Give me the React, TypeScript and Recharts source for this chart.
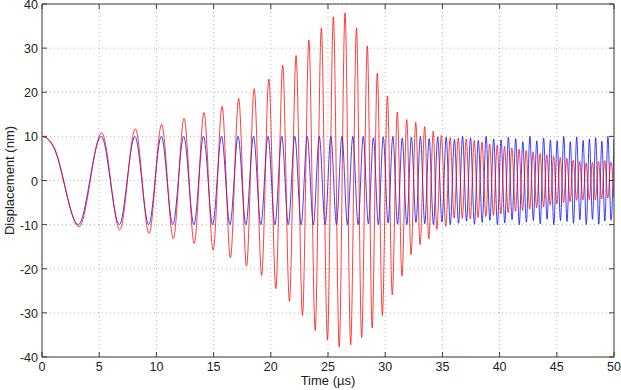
import React from "react";
import { LineChart, Line, XAxis, YAxis, CartesianGrid } from "recharts";

// Axis ticks
const xTicks = [0, 5, 10, 15, 20, 25, 30, 35, 40, 45, 50];
const yTicks = [-40, -30, -20, -10, 0, 10, 20, 30, 40];

// Blue trace: times (µs) of the start, each peak / trough, and its value (nm)
const blueTimes = [
  0, 0.5, 1.0, 3.18, 5.18, 6.76, 8.12, 9.33, 10.43, 11.44, 12.39, 13.28, 14.12,
  14.92, 15.69, 16.43, 17.14, 17.82, 18.49, 19.13, 19.76, 20.36, 20.96, 21.53,
  22.1, 22.65, 23.19, 23.72, 24.24, 24.75, 25.25, 25.74, 26.22, 26.7, 27.17,
  27.63, 28.08, 28.53, 28.97, 29.4, 29.83, 30.25, 30.67, 31.08, 31.49, 31.89,
  32.29, 32.69, 33.08, 33.46, 33.84, 34.22, 34.59, 34.96, 35.33, 35.69, 36.05,
  36.41, 36.76, 37.11, 37.46, 37.8, 38.14, 38.48, 38.82, 39.15, 39.48, 39.81,
  40.13, 40.45, 40.77, 41.09, 41.41, 41.72, 42.03, 42.34, 42.65, 42.95, 43.25,
  43.55, 43.85, 44.15, 44.44, 44.74, 45.03, 45.32, 45.61, 45.89, 46.18, 46.46,
  46.74, 47.02, 47.3, 47.58, 47.85, 48.12, 48.4, 48.67, 48.94, 49.2, 49.47,
  49.74, 50,
];
const blueValues = [
  10, 9.4, 7.6, -10, 10, -10, 10, -10, 10, -10, 10, -10, 10, -10, 10, -10, 10,
  -10, 10, -10, 10, -10, 10, -10, 10, -10, 10, -10, 10, -10, 10, -10, 10, -10,
  10, -10, 10, -9.8, 9.7, -10, 9.9, -9.6, 10, -9.9, 9.6, -10, 9.8, -9.5, 10,
  -9.8, 9.5, -10, 9.9, -9.4, 9.8, -10, 9.3, -9.7, 10, -9.2, 9.6, -9.9, 9.1,
  -9.5, 10, -9.0, 9.4, -10, 9.2, -9.6, 9.8, -8.9, 9.5, -10, 8.8, -9.4, 10, -9.1,
  9.0, -9.8, 9.6, -8.8, 9.2, -10, 9.0, -9.1, 10, -9.3, 8.8, -9.7, 9.9, -8.9,
  9.1, -10, 9.4, -8.8, 9.7, -9.9, 8.9, -9.2, 10, -9.0, 9.3,
];

// Red trace: times (µs) of the start, each peak / trough, and its value (nm)
const redTimes = [
  0, 0.5, 1.0, 3.24, 5.22, 6.8, 8.16, 9.36, 10.46, 11.48, 12.42, 13.31, 14.16,
  14.96, 15.74, 16.47, 17.19, 17.88, 18.55, 19.2, 19.83, 20.44, 21.04, 21.63,
  22.21, 22.77, 23.33, 23.88, 24.42, 24.95, 25.47, 25.98, 26.49, 26.98, 27.49,
  27.94, 28.44, 28.86, 29.31, 29.75, 30.19, 30.62, 31.06, 31.47, 31.88, 32.26,
  32.67, 33.05, 33.45, 33.81, 34.2, 34.51, 34.91, 35.29, 35.68, 36.03, 36.39,
  36.74, 37.09, 37.44, 37.78, 38.12, 38.46, 38.8, 39.13, 39.46, 39.79, 40.11,
  40.43, 40.75, 41.07, 41.39, 41.7, 42.01, 42.32, 42.63, 42.93, 43.24, 43.54,
  43.84, 44.13, 44.43, 44.72, 45.01, 45.3, 45.59, 45.88, 46.16, 46.44, 46.73,
  47.0, 47.28, 47.56, 47.84, 48.11, 48.38, 48.65, 48.92, 49.19, 49.46, 49.72,
  49.99,
];
const redValues = [
  10, 9.5, 7.8, -10.5, 10.8, -11.2, 11.7, -12.0, 12.7, -13.2, 14.1, -14.3, 15.4,
  -15.8, 16.8, -17.5, 18.6, -19.4, 20.8, -21.5, 23.0, -24.5, 26.1, -27.4, 28.3,
  -30.6, 31.8, -34.0, 34.6, -36.1, 37.1, -37.7, 38.0, -37.2, 34.6, -35.6, 30.5,
  -33.4, 24.3, -30.6, 19.1, -25.9, 15.5, -21.7, 13.8, -16.8, 13.2, -14.5, 12.2,
  -13.2, 11.2, -11.1, 10.2, -10.4, 9.7, -8.5, 9.6, -8.6, 9.4, -8.7, 9.1, -8.4,
  8.7, -8.2, 8.3, -7.9, 8.0, -7.6, 7.7, -7.3, 7.4, -7.0, 7.1, -6.8, 6.8, -6.5,
  6.5, -6.2, 6.1, -6.0, 5.8, -5.6, 5.5, -5.3, 5.2, -5.0, 5.0, -4.8, 4.6, -4.5,
  4.3, -4.4, 4.0, -4.3, 4.1, -4.4, 4.3, -4.2, 4.5, -4.0, 4.2, -3.8,
];

const toPoints = (times: number[], values: number[]) =>
  times
    .slice(0, Math.min(times.length, values.length))
    .map((t, i) => ({ t, v: values[i] }));

const bluePoints = toPoints(blueTimes, blueValues);
const redPoints = toPoints(redTimes, redValues);

const AXIS = "#3c3c3c";
const TEXT = "#222222";
const FONT = '"Liberation Sans", Arial, Helvetica, sans-serif';
const TICK_LEN = 5;

// MATLAB-style inward ticks
const BottomTick = (props: any) => {
  const { x, y, payload } = props;
  return (
    <g>
      <line x1={x} x2={x} y1={y} y2={y - TICK_LEN} stroke={AXIS} />
      <text x={x} y={y + 14} textAnchor="middle" fontSize={12.5} fill={TEXT} fontFamily={FONT}>
        {payload.value}
      </text>
    </g>
  );
};

const TopTick = (props: any) => {
  const { x, y } = props;
  return <line x1={x} x2={x} y1={y} y2={y + TICK_LEN} stroke={AXIS} />;
};

const LeftTick = (props: any) => {
  const { x, y, payload } = props;
  return (
    <g>
      <line x1={x} x2={x + TICK_LEN} y1={y} y2={y} stroke={AXIS} />
      <text x={x - 4} y={y + 5} textAnchor="end" fontSize={12.5} fill={TEXT} fontFamily={FONT}>
        {payload.value}
      </text>
    </g>
  );
};

const RightTick = (props: any) => {
  const { x, y } = props;
  return <line x1={x} x2={x - TICK_LEN} y1={y} y2={y} stroke={AXIS} />;
};

export default function App() {
  return (
    <div style={{ position: "absolute", left: 0, top: 0, background: "#fff" }}>
      <LineChart
        width={621}
        height={390}
        margin={{ top: 3, right: 6, bottom: 0, left: 0 }}
        style={{ fontFamily: FONT }}
      >
        <CartesianGrid stroke="#b8b8b8" strokeDasharray="1 3" strokeWidth={1} />
        <XAxis
          dataKey="t"
          type="number"
          domain={[0, 50]}
          ticks={xTicks}
          interval={0}
          allowDataOverflow
          height={33}
          tickSize={0}
          tickMargin={0}
          tickLine={false}
          tick={BottomTick}
          axisLine={{ stroke: AXIS }}
          label={{
            value: "Time (µs)",
            position: "insideBottom",
            offset: 5,
            fontSize: 13,
            fill: TEXT,
            fontFamily: FONT,
          }}
        />
        <XAxis
          xAxisId="top"
          orientation="top"
          dataKey="t"
          type="number"
          domain={[0, 50]}
          ticks={xTicks}
          interval={0}
          allowDataOverflow
          height={1}
          tickSize={0}
          tickMargin={0}
          tickLine={false}
          tick={TopTick}
          axisLine={{ stroke: AXIS }}
        />
        <YAxis
          type="number"
          domain={[-40, 40]}
          ticks={yTicks}
          interval={0}
          allowDataOverflow
          width={42}
          tickSize={0}
          tickMargin={0}
          tickLine={false}
          tick={LeftTick}
          axisLine={{ stroke: AXIS }}
          label={{
            value: "Displacement (nm)",
            angle: -90,
            position: "insideLeft",
            offset: 9,
            fontSize: 13,
            fill: TEXT,
            fontFamily: FONT,
            style: { textAnchor: "middle" },
          }}
        />
        <YAxis
          yAxisId="r"
          orientation="right"
          type="number"
          domain={[-40, 40]}
          ticks={yTicks}
          interval={0}
          allowDataOverflow
          width={1}
          tickSize={0}
          tickMargin={0}
          tickLine={false}
          tick={RightTick}
          axisLine={{ stroke: AXIS }}
        />
        <Line
          data={bluePoints}
          dataKey="v"
          type="monotone"
          stroke="#0000ff"
          strokeWidth={0.75}
          dot={false}
          activeDot={false}
          isAnimationActive={false}
        />
        <Line
          data={redPoints}
          dataKey="v"
          type="monotone"
          stroke="#ff0000"
          strokeWidth={0.75}
          dot={false}
          activeDot={false}
          isAnimationActive={false}
        />
      </LineChart>
    </div>
  );
}
